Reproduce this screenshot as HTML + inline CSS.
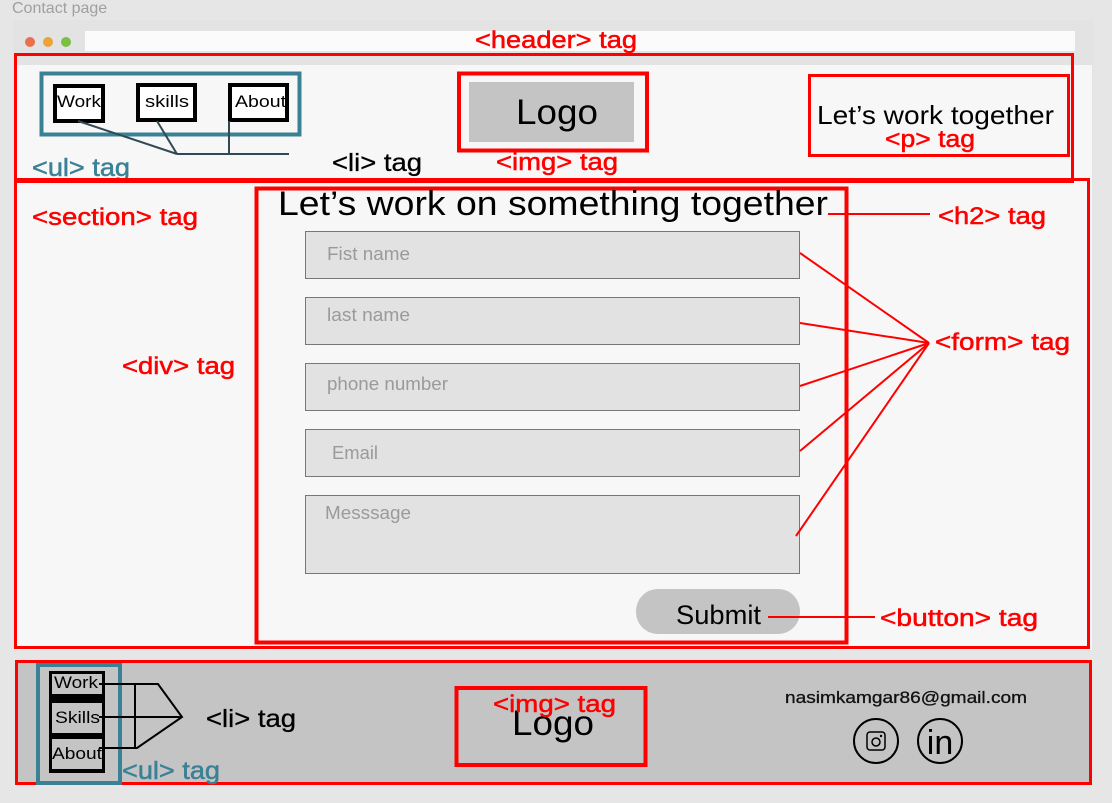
<!DOCTYPE html>
<html><head><meta charset="utf-8"><style>
html,body{margin:0;padding:0;width:1112px;height:803px;overflow:hidden;background:#e6e6e6;}
svg{display:block;font-family:"Liberation Sans",sans-serif;}
.r{stroke:#f00;stroke-width:0.5}
.t{stroke:#3b8196;stroke-width:0.5}
</style></head><body>
<svg width="1112" height="803" viewBox="0 0 1112 803" xmlns="http://www.w3.org/2000/svg">
<rect x="0" y="0" width="1112" height="803" fill="#e6e6e6"/>
<text x="12" y="13" font-size="16" fill="#a0a0a0">Contact page</text>
<rect x="13" y="20" width="1080" height="630" fill="#e3e3e3"/>
<rect x="85" y="31" width="990" height="20" fill="#fbfbfb"/>
<circle cx="30" cy="42" r="5" fill="#e8704f"/>
<circle cx="48" cy="42" r="5" fill="#eba33a"/>
<circle cx="66" cy="42" r="5" fill="#7ac043"/>
<rect x="14" y="65" width="1078" height="585" fill="#f7f7f7"/>
<!-- header -->
<rect x="15.5" y="54.5" width="1057" height="127" fill="none" stroke="#f00" stroke-width="3"/>
<text class="r" x="475" y="48" font-size="24" fill="#f00" textLength="162" lengthAdjust="spacingAndGlyphs">&lt;header&gt; tag</text>
<rect x="41.5" y="73.5" width="258" height="61" fill="none" stroke="#3b8196" stroke-width="4"/>
<rect x="55" y="86" width="48" height="35" fill="#fff" stroke="#000" stroke-width="4"/>
<text x="57" y="107" font-size="17" textLength="44" lengthAdjust="spacingAndGlyphs">Work</text>
<rect x="138" y="85" width="57" height="35" fill="#fff" stroke="#000" stroke-width="4"/>
<text x="145" y="107" font-size="17" textLength="44" lengthAdjust="spacingAndGlyphs">skills</text>
<rect x="230" y="85" width="57" height="35" fill="#fff" stroke="#000" stroke-width="4"/>
<text x="235" y="107" font-size="17" textLength="51" lengthAdjust="spacingAndGlyphs">About</text>
<g stroke="#2f4a55" stroke-width="2" fill="none">
<path d="M78 121 L177 154 M157 121 L177 154 M229 121 L229 154 M177 154 L289 154"/>
</g>
<text class="t" x="32" y="176" font-size="25" fill="#3b8196" textLength="98" lengthAdjust="spacingAndGlyphs">&lt;ul&gt; tag</text>
<text x="332" y="171" font-size="25" fill="#000" stroke="#000" stroke-width="0.3" textLength="90" lengthAdjust="spacingAndGlyphs">&lt;li&gt; tag</text>
<rect x="459" y="73.5" width="188" height="77" fill="none" stroke="#f00" stroke-width="4"/>
<rect x="469" y="82" width="165" height="60" fill="#c4c4c4"/>
<text x="516" y="124" font-size="35" textLength="82" lengthAdjust="spacingAndGlyphs">Logo</text>
<text class="r" x="496" y="170" font-size="24" fill="#f00" textLength="122" lengthAdjust="spacingAndGlyphs">&lt;img&gt; tag</text>
<rect x="809.5" y="75.5" width="259" height="80" fill="none" stroke="#f00" stroke-width="3"/>
<text x="817" y="124" font-size="26" textLength="237" lengthAdjust="spacingAndGlyphs">Let’s work together</text>
<text class="r" x="885" y="147" font-size="24" fill="#f00" textLength="90" lengthAdjust="spacingAndGlyphs">&lt;p&gt; tag</text>
<!-- section -->
<rect x="15.5" y="179.5" width="1073" height="468" fill="none" stroke="#f00" stroke-width="3"/>
<rect x="256.5" y="188.5" width="590" height="454" fill="none" stroke="#f00" stroke-width="4"/>
<text class="r" x="32" y="225" font-size="24" fill="#f00" textLength="166" lengthAdjust="spacingAndGlyphs">&lt;section&gt; tag</text>
<text class="r" x="122" y="374" font-size="24" fill="#f00" textLength="113" lengthAdjust="spacingAndGlyphs">&lt;div&gt; tag</text>
<text x="278" y="215" font-size="34" textLength="550" lengthAdjust="spacingAndGlyphs">Let’s work on something together</text>
<line x1="828" y1="214" x2="930" y2="214" stroke="#f00" stroke-width="2"/>
<text class="r" x="938" y="224" font-size="24" fill="#f00" textLength="108" lengthAdjust="spacingAndGlyphs">&lt;h2&gt; tag</text>
<g fill="#e2e2e2" stroke="#777" stroke-width="1">
<rect x="305.5" y="231.5" width="494" height="47"/>
<rect x="305.5" y="297.5" width="494" height="47"/>
<rect x="305.5" y="363.5" width="494" height="47"/>
<rect x="305.5" y="429.5" width="494" height="47"/>
<rect x="305.5" y="495.5" width="494" height="78"/>
</g>
<g font-size="18" fill="#9a9a9a">
<text x="327" y="260" textLength="83" lengthAdjust="spacingAndGlyphs">Fist name</text>
<text x="327" y="321" textLength="83" lengthAdjust="spacingAndGlyphs">last name</text>
<text x="327" y="390" textLength="121" lengthAdjust="spacingAndGlyphs">phone number</text>
<text x="332" y="459" textLength="46" lengthAdjust="spacingAndGlyphs">Email</text>
<text x="325" y="519" textLength="86" lengthAdjust="spacingAndGlyphs">Messsage</text>
</g>
<g stroke="#f00" stroke-width="2">
<line x1="800" y1="253" x2="929" y2="343"/>
<line x1="800" y1="323" x2="929" y2="343"/>
<line x1="800" y1="386" x2="929" y2="343"/>
<line x1="800" y1="451" x2="929" y2="343"/>
<line x1="796" y1="536" x2="929" y2="343"/>
</g>
<text class="r" x="935" y="350" font-size="24" fill="#f00" textLength="135" lengthAdjust="spacingAndGlyphs">&lt;form&gt; tag</text>
<rect x="636" y="589" width="164" height="45" rx="22" fill="#c4c4c4"/>
<text x="676" y="624" font-size="27" textLength="85" lengthAdjust="spacingAndGlyphs">Submit</text>
<line x1="768" y1="617" x2="875" y2="617" stroke="#f00" stroke-width="2"/>
<text class="r" x="880" y="626" font-size="24" fill="#f00" textLength="158" lengthAdjust="spacingAndGlyphs">&lt;button&gt; tag</text>
<!-- footer -->
<rect x="16.5" y="661.5" width="1074" height="122" fill="#c4c4c4" stroke="#f00" stroke-width="3"/>
<rect x="38" y="665" width="82" height="118" fill="none" stroke="#3b8196" stroke-width="4"/>
<rect x="49" y="671" width="56" height="102" fill="#000"/>
<rect x="52" y="674" width="50" height="20" fill="#c4c4c4"/>
<rect x="52" y="703" width="50" height="30" fill="#c4c4c4"/>
<rect x="52" y="739" width="50" height="30" fill="#c4c4c4"/>
<text x="54" y="688" font-size="17" textLength="44" lengthAdjust="spacingAndGlyphs">Work</text>
<text x="55" y="723" font-size="17" textLength="45" lengthAdjust="spacingAndGlyphs">Skills</text>
<text x="52" y="759" font-size="17" textLength="50" lengthAdjust="spacingAndGlyphs">About</text>
<g stroke="#000" stroke-width="2" fill="none">
<path d="M99 684 L158 684 L182 717 L137 748 L99 748 M99 717 L182 717 M135 684 L135 748"/>
</g>
<text x="206" y="727" font-size="25" stroke="#000" stroke-width="0.3" textLength="90" lengthAdjust="spacingAndGlyphs">&lt;li&gt; tag</text>
<text class="t" x="122" y="779" font-size="25" fill="#3b8196" textLength="98" lengthAdjust="spacingAndGlyphs">&lt;ul&gt; tag</text>
<rect x="456.5" y="688" width="189" height="77" fill="none" stroke="#f00" stroke-width="4"/>
<text x="512" y="735" font-size="35" textLength="82" lengthAdjust="spacingAndGlyphs">Logo</text>
<text class="r" x="493" y="712" font-size="24" fill="#f00" textLength="123" lengthAdjust="spacingAndGlyphs">&lt;img&gt; tag</text>
<text x="785" y="703" font-size="17" fill="#111" stroke="#111" stroke-width="0.3" textLength="242" lengthAdjust="spacingAndGlyphs">nasimkamgar86@gmail.com</text>
<circle cx="876" cy="741" r="22" fill="none" stroke="#000" stroke-width="2"/>
<rect x="867" y="732" width="18" height="18" rx="3" fill="none" stroke="#000" stroke-width="1.5"/>
<circle cx="876" cy="742" r="4" fill="none" stroke="#000" stroke-width="1.5"/>
<circle cx="881" cy="736" r="1.2" fill="#000"/>
<circle cx="940" cy="741" r="22" fill="none" stroke="#000" stroke-width="2"/>
<text x="940" y="754" font-size="34" text-anchor="middle">in</text>
</svg>
</body></html>
